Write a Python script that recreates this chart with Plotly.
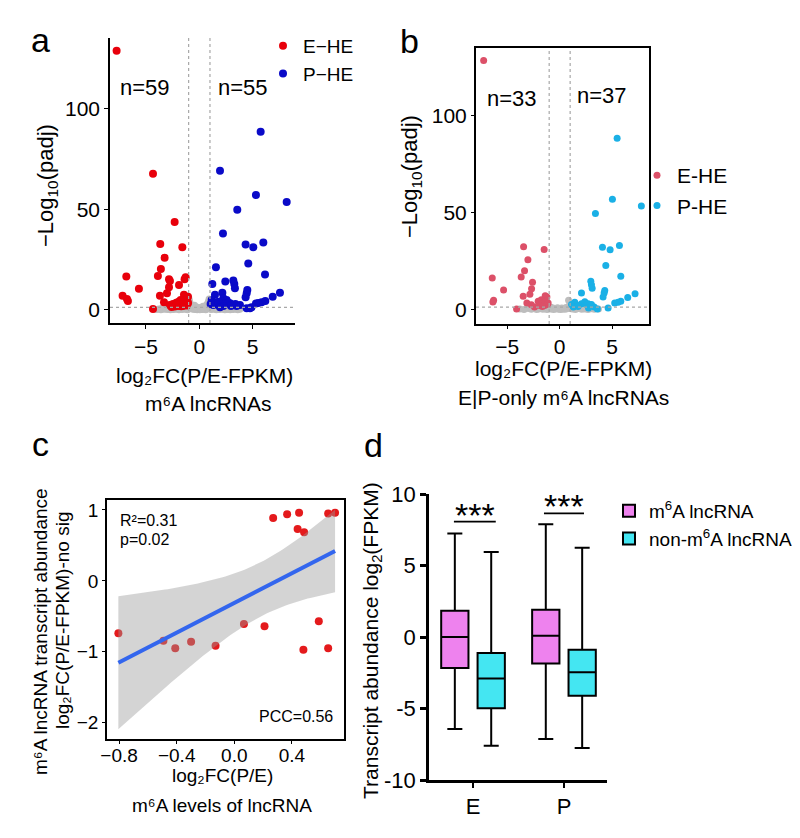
import numpy as np
import plotly.graph_objects as go

W, H = 800, 838
PAGE_PAD = 8  # default body margin of the html page
FONT = "Liberation Sans, Arial, sans-serif"

# ---- panel a : volcano, all m6A lncRNAs ----
a_e_x = [-7.75, -4.34, -2.31, -3.66, -1.59, -3.25, -3.6, -6.84, -3.88, -2.84,
         -2.75, -1.28, -1.38, -5.66, -2.84, -1.9, -7.19, -6.78, -6.69, -3.69,
         -3.03, -3.31, -1.44, -1.31, -4.34, -2.47, -2.16, -1.94, -1.75, -1.63,
         -1.38, -1.13, -1.53, -2.0, -1.06, -2.31, -1.84, -1.22, -2.78, -1.05,
         -2.6, -1.7, -1.45, -1.15, -1.9]
a_e_y = [129, 67.7, 43.8, 32.8, 31.2, 26, 20.4, 16.6, 16.9, 15.3,
         14.4, 16.3, 15.3, 10.6, 11.3, 12.4, 7.0, 5.5, 4.5, 7.1,
         8.3, 3.8, 7.5, 6.6, 0.5, 3.0, 3.6, 4.1, 5.0, 3.3,
         4.1, 4.6, 2.0, 2.0, 6.6, 1.7, 2.5, 3.0, 2.5, 3.5,
         1.5, 1.8, 2.8, 2.2, 2.9]
a_p_x = [5.75, 1.94, 5.31, 8.19, 3.56, 2.22, 4.34, 5.06, 6.0, 4.59,
         1.56, 6.16, 2.44, 3.19, 3.28, 1.22, 3.34, 4.5, 4.44, 4.34,
         7.56, 6.88, 6.19, 5.84, 5.53, 5.31, 1.47, 2.16, 2.25, 2.56,
         2.88, 3.38, 1.06, 1.31, 1.78, 2.09, 2.41, 4.44, 4.75, 4.9,
         3.81, 2.97, 1.16, 1.47, 1.78, 2.72, 3.03, 3.5, 2.25, 1.94]
a_p_y = [88.7, 69.3, 57.2, 53.7, 49.8, 38.0, 32.5, 31.2, 33.5, 23.1,
         21.2, 17.6, 14.1, 14.6, 12.9, 12.9, 10.8, 9.9, 8.3, 6.3,
         8.6, 6.5, 4.5, 3.8, 3.5, 3.2, 7.5, 8.6, 5.8, 5.0,
         3.3, 3.0, 3.0, 2.5, 2.5, 4.1, 3.3, 0.8, 0.8, 1.3,
         2.5, 2.0, 5.0, 3.6, 4.1, 3.6, 2.5, 2.0, 2.0, 1.3]
a_ns_x = [-4.0, -3.8, -3.6, -3.5, -3.3, -3.2, -3.0, -2.9, -2.8, -2.7, -2.6, -2.5,
          -2.4, -2.3, -2.2, -2.1, -2.0, -1.9, -1.8, -1.7, -1.6, -1.5, -1.4, -1.3,
          -1.2, -1.1, -1.05, -0.98, -0.95, -0.92, -0.9, -0.88, -0.85, -0.8, -0.8,
          -0.75, -0.7, -0.65, -0.6, -0.55, -0.5, -0.45, -0.4, -0.35, -0.3, -0.25,
          -0.2, -0.15, -0.1, -0.05, 0.0, 0.05, 0.1, 0.15, 0.2, 0.25, 0.3, 0.35,
          0.4, 0.45, 0.5, 0.55, 0.6, 0.65, 0.7, 0.75, 0.8, 0.85, 0.88, 0.92, 0.95,
          0.98, 1.05, 1.1, 1.2, 1.3, 1.4, 1.5, 1.6, 1.7, 1.8, 1.9, 2.0, 2.1, 2.2,
          2.3, 2.4, 2.5, 2.6, 2.7, 2.8, 2.9, 3.0, 3.2, 3.4, 3.6, 3.8]
a_ns_y = [0.2, 0.5, 0.1, 0.8, 0.3, 1.0, 0.2, 0.6, 1.1, 0.1, 0.4, 0.9,
          0.2, 0.6, 1.2, 0.3, 0.8, 0.1, 0.5, 1.0, 0.2, 0.7, 1.2, 0.4,
          0.9, 0.1, 1.1, 6.0, 5.0, 4.2, 3.5, 2.8, 2.2, 3.0, 1.5,
          0.8, 2.0, 1.2, 0.3, 1.6, 0.7, 2.3, 0.2, 1.0, 0.5, 1.4,
          0.1, 0.8, 0.3, 1.1, 0.5, 0.1, 0.9, 0.4, 1.3, 0.2, 0.7, 1.8,
          0.3, 1.0, 0.5, 2.0, 0.1, 1.4, 2.6, 0.6, 3.4, 1.9, 4.4, 5.5, 2.9,
          3.8, 0.9, 0.2, 0.6, 1.1, 0.3, 0.8, 0.1, 0.5, 1.0, 0.2, 0.7, 1.2, 0.3,
          0.6, 0.1, 0.9, 0.4, 0.2, 0.7, 0.1, 0.5, 0.2, 0.6, 0.1, 0.3]

# ---- panel b : volcano, E|P-only m6A lncRNAs ----
b_e_x = [-7.25, -3.44, -1.48, -3.03, -3.35, -6.43, -3.67, -2.59, -2.68, -5.35,
         -6.30, -6.37, -3.48, -2.84, -3.13, -1.38, -1.22, -4.11, -2.05, -1.75,
         -1.6, -1.3, -1.15, -1.9, -2.4, -1.1, -1.45, -2.7, -1.65]
b_e_y = [128.5, 32.4, 31.0, 25.7, 20.1, 16.3, 16.8, 14.2, 10.8, 10.1,
         4.8, 3.9, 6.9, 7.9, 3.4, 7.2, 6.5, 0.3, 4.3, 5.1,
         3.3, 4.3, 2.6, 2.1, 1.4, 3.4, 2.1, 2.5, 1.6]
b_p_x = [5.48, 5.03, 7.79, 3.41, 4.08, 4.81, 5.70, 4.40, 5.83, 2.97,
         3.03, 3.10, 2.08, 4.30, 4.24, 4.14, 7.19, 6.49, 5.83, 5.57,
         5.25, 4.62, 1.13, 1.44, 1.76, 2.08, 2.4, 2.56, 2.71, 3.03,
         3.29, 3.6, 1.3, 1.75, 2.75]
b_p_y = [88.5, 57.0, 53.5, 49.6, 32.2, 30.9, 33.1, 22.8, 17.3, 14.6,
         12.9, 11.1, 8.6, 9.9, 8.6, 6.5, 8.2, 6.3, 4.3, 3.8,
         3.4, 0.9, 2.6, 3.8, 2.1, 3.1, 4.1, 2.6, 3.1, 2.6,
         1.4, 0.3, 1.4, 1.6, 0.8]
b_ns_x = [-3.8, -3.4, -3.0, -2.7, -2.4, -2.2, -2.0, -1.8, -1.6, -1.4, -1.2, -1.1,
          -0.9, -0.8, -0.6, -0.5, -0.4, -0.2, -0.1, 0.0, 0.1, 0.2, 0.3, 0.5, 0.6,
          0.7, 0.85, 0.9, 0.95, 1.2, 1.5, 1.8, 2.1, 2.4, 2.7, 3.0, 3.3, 3.7]
b_ns_y = [0.3, 0.1, 0.6, 0.2, 0.9, 0.1, 0.4, 0.8, 0.2, 0.5, 0.1, 0.9,
          0.3, 1.2, 0.1, 0.7, 0.3, 1.0, 0.2, 0.6, 0.1, 0.9, 0.4, 0.2, 1.1,
          0.5, 4.8, 2.0, 0.8, 0.3, 0.1, 0.6, 0.2, 0.4, 0.1, 0.5, 0.2, 0.3]

# ---- panel c : m6A level vs transcript abundance ----
c_x = [-0.805, -0.492, -0.41, -0.30, -0.13, 0.067, 0.21, 0.27, 0.367, 0.45,
       0.44, 0.485, 0.48, 0.587, 0.652, 0.652, 0.70]
c_y = [-0.74, -0.845, -0.95, -0.86, -0.915, -0.61, -0.64, 0.887, 0.94, 0.96,
       0.73, 0.686, -0.97, -0.57, 0.95, -0.95, 0.96]

# ---- panel d : box plots ----
groups = ["E", "P"]
m6a_low = [-6.43, -7.13]
m6a_q1 = [-2.17, -1.86]
m6a_med = [0.0, 0.09]
m6a_q3 = [1.84, 1.91]
m6a_high = [7.23, 7.88]
non_low = [-7.6, -7.76]
non_q1 = [-4.99, -4.1]
non_med = [-2.91, -2.47]
non_q3 = [-1.12, -0.89]
non_high = [5.94, 6.25]


# positions below are given in screen pixels of the page
def fx(p):
    return (p - PAGE_PAD) / W


def fy(p):
    return 1 - (p - PAGE_PAD) / H


# linear fit with 95% confidence band (as geom_smooth(method="lm"))
cx = np.array(c_x)
cy = np.array(c_y)
slope, intercept = np.polyfit(cx, cy, 1)
n = len(cx)
xs = np.linspace(cx.min(), cx.max(), 80)
fit = intercept + slope * xs
resid = cy - (intercept + slope * cx)
s = np.sqrt((resid ** 2).sum() / (n - 2))
sxx = ((cx - cx.mean()) ** 2).sum()
t_crit = 2.131  # t(0.975, df=15)
se = s * np.sqrt(1 / n + (xs - cx.mean()) ** 2 / sxx)
upper = fit + t_crit * se
lower = fit - t_crit * se

fig = go.Figure()

# panel a
fig.add_trace(go.Scatter(x=a_ns_x, y=a_ns_y, mode="markers", marker=dict(color="#bdbdbd", size=7),
                         showlegend=False, xaxis="x", yaxis="y", hoverinfo="skip"))
fig.add_trace(go.Scatter(x=a_e_x, y=a_e_y, mode="markers", name="E\u2212HE",
                         marker=dict(color="#e8000b", size=8), xaxis="x", yaxis="y", legend="legend"))
fig.add_trace(go.Scatter(x=a_p_x, y=a_p_y, mode="markers", name="P\u2212HE",
                         marker=dict(color="#0a0ac8", size=8), xaxis="x", yaxis="y", legend="legend"))

# panel b
fig.add_trace(go.Scatter(x=b_ns_x, y=b_ns_y, mode="markers", marker=dict(color="#bdbdbd", size=7),
                         showlegend=False, xaxis="x2", yaxis="y2", hoverinfo="skip"))
fig.add_trace(go.Scatter(x=b_e_x, y=b_e_y, mode="markers", name="E-HE",
                         marker=dict(color="#dc5068", size=7), xaxis="x2", yaxis="y2", legend="legend2"))
fig.add_trace(go.Scatter(x=b_p_x, y=b_p_y, mode="markers", name="P-HE",
                         marker=dict(color="#1ab0e6", size=7), xaxis="x2", yaxis="y2", legend="legend2"))

# panel c
fig.add_trace(go.Scatter(x=c_x, y=c_y, mode="markers", marker=dict(color="#e41a1c", size=8),
                         showlegend=False, xaxis="x3", yaxis="y3"))
fig.add_trace(go.Scatter(x=np.concatenate([xs, xs[::-1]]), y=np.concatenate([upper, lower[::-1]]),
                         fill="toself", fillcolor="rgba(153,153,153,0.42)", line=dict(width=0),
                         mode="lines", showlegend=False, xaxis="x3", yaxis="y3", hoverinfo="skip"))
fig.add_trace(go.Scatter(x=xs, y=fit, mode="lines", line=dict(color="#3366ee", width=4),
                         showlegend=False, xaxis="x3", yaxis="y3"))

# panel d
fig.add_trace(go.Box(x=groups, q1=m6a_q1, median=m6a_med, q3=m6a_q3, lowerfence=m6a_low,
                     upperfence=m6a_high, name="m<sup>6</sup>A lncRNA", fillcolor="#ee82ee",
                     line=dict(color="black", width=2), whiskerwidth=0.55, boxpoints=False,
                     xaxis="x4", yaxis="y4", legend="legend3"))
fig.add_trace(go.Box(x=groups, q1=non_q1, median=non_med, q3=non_q3, lowerfence=non_low,
                     upperfence=non_high, name="non-m<sup>6</sup>A lncRNA", fillcolor="#44e6f2",
                     line=dict(color="black", width=2), whiskerwidth=0.55, boxpoints=False,
                     xaxis="x4", yaxis="y4", legend="legend3"))

base = dict(showgrid=False, zeroline=False, showline=True, linecolor="black", automargin=False,
            ticks="outside", tickcolor="black", color="black")

dot = dict(color="#a8a8a8", width=1.2, dash="dot")
shapes = [
    dict(type="line", xref="x", yref="y domain", x0=-1, x1=-1, y0=0, y1=1, line=dot),
    dict(type="line", xref="x", yref="y domain", x0=1, x1=1, y0=0, y1=1, line=dot),
    dict(type="line", xref="x domain", yref="y", x0=0, x1=1, y0=1.3, y1=1.3, line=dot),
    dict(type="line", xref="x2", yref="y2 domain", x0=-1, x1=-1, y0=0, y1=1, line=dot),
    dict(type="line", xref="x2", yref="y2 domain", x0=1, x1=1, y0=0, y1=1, line=dot),
    dict(type="line", xref="x2 domain", yref="y2", x0=0, x1=1, y0=1.3, y1=1.3, line=dot),
    dict(type="line", xref="x4", yref="y4", x0=-0.21, x1=0.25, y0=8.07, y1=8.07,
         line=dict(color="black", width=1.8)),
    dict(type="line", xref="x4", yref="y4", x0=0.78, x1=1.22, y0=8.65, y1=8.65,
         line=dict(color="black", width=1.8)),
]


def note(text, x, y, size, xanchor="center", **kw):
    return dict(text=text, x=fx(x), y=fy(y), xref="paper", yref="paper", showarrow=False,
                xanchor=xanchor, yanchor="middle", font=dict(size=size, color="black"), **kw)


annotations = [
    note("a", 40, 40, 34), note("b", 409, 41, 34), note("c", 40, 444, 34), note("d", 373, 445, 34),
    note("n=59", 145, 88, 22), note("n=55", 243, 88, 22),
    note("n=33", 512, 98, 22), note("n=37", 602, 96, 22),
    note("\u2212Log<sub>10</sub>(padj)", 47, 186, 22, textangle=-90),
    note("\u2212Log<sub>10</sub>(padj)", 411, 177, 22, textangle=-90),
    note("log\u2082FC(P/E-FPKM)", 204, 375, 21), note("m\u2076A lncRNAs", 208, 403, 21),
    note("log\u2082FC(P/E-FPKM)", 563, 368, 21), note("E|P-only m\u2076A lncRNAs", 563, 397, 21),
    note("m\u2076A lncRNA transcript abundance", 40, 632, 19, textangle=-90),
    note("log\u2082FC(P/E-FPKM)-no sig", 62, 621, 19, textangle=-90),
    note("log\u2082FC(P/E)", 222, 775, 19), note("m\u2076A levels of lncRNA", 222, 805, 19),
    note("R\u00b2=0.31", 118, 520, 16, xanchor="left"),
    note("p=0.02", 118, 539, 16, xanchor="left"),
    note("PCC=0.56", 335, 716, 16, xanchor="right"),
    note("Transcript abundance log<sub>2</sub>(FPKM)", 372, 641, 21, textangle=-90),
    dict(text="***", x=0.02, y=8.55, xref="x4", yref="y4", showarrow=False,
         xanchor="center", yanchor="middle", font=dict(size=34, color="black")),
    dict(text="***", x=1.0, y=9.15, xref="x4", yref="y4", showarrow=False,
         xanchor="center", yanchor="middle", font=dict(size=34, color="black")),
]

fig.update_layout(
    width=W, height=H, margin=dict(l=0, r=0, t=0, b=0, autoexpand=False), autosize=False,
    paper_bgcolor="white", plot_bgcolor="white",
    font=dict(family=FONT, color="black"),
    boxmode="group", boxgap=0.2, boxgroupgap=0.25,
    xaxis=dict(domain=[fx(110), fx(295)], range=[-8.37, 8.97], tickvals=[-5, 0, 5], anchor="y",
               linewidth=1.5, ticklen=4, tickfont=dict(size=21), **base),
    yaxis=dict(domain=[fy(323), fy(38)], range=[-6.5, 135.3], tickvals=[0, 50, 100], anchor="x",
               linewidth=1.5, ticklen=4, tickfont=dict(size=21), **base),
    xaxis2=dict(domain=[fx(476), fx(649)], range=[-7.98, 8.52], tickvals=[-5, 0, 5], anchor="y2",
                linewidth=2, mirror=True, ticklen=3, tickfont=dict(size=21), **base),
    yaxis2=dict(domain=[fy(324), fy(48)], range=[-7.4, 135], tickvals=[0, 50, 100], anchor="x2",
                linewidth=2, mirror=True, ticklen=3, tickfont=dict(size=21), **base),
    xaxis3=dict(domain=[fx(107), fx(344)], range=[-0.884, 0.762], tickvals=[-0.8, -0.4, 0, 0.4],
                ticktext=["\u22120.8", "\u22120.4", "0.0", "0.4"], anchor="y3", ticklabelstandoff=-5,
                linewidth=1.5, mirror=True, ticklen=3, tickfont=dict(size=19), **base),
    yaxis3=dict(domain=[fy(739), fy(500)], range=[-2.23, 1.14], tickvals=[-2, -1, 0, 1], anchor="x3",
                linewidth=1.5, mirror=True, ticklen=3, tickfont=dict(size=19), **base),
    xaxis4=dict(domain=[fx(429), fx(607)], type="category", categoryorder="array", categoryarray=groups,
                range=[-0.484, 1.473], anchor="y4", linewidth=2.5, ticklen=5, tickwidth=2,
                tickfont=dict(size=22), **base),
    yaxis4=dict(domain=[fy(780), fy(494)], range=[-10, 10], tickvals=[-10, -5, 0, 5, 10],
                ticktext=["-10", "-5", "0", "5", "10"], anchor="x4", linewidth=2.5, ticklen=6,
                tickwidth=2.5, tickfont=dict(size=22), **base),
    legend=dict(x=fx(263), y=fy(27), xanchor="left", yanchor="top", font=dict(size=19),
                bgcolor="rgba(0,0,0,0)"),
    legend2=dict(x=fx(637), y=fy(155), xanchor="left", yanchor="top", font=dict(size=21),
                 bgcolor="rgba(0,0,0,0)"),
    legend3=dict(x=fx(609), y=fy(492), xanchor="left", yanchor="top", font=dict(size=19),
                 bgcolor="rgba(0,0,0,0)"),
    shapes=shapes,
    annotations=annotations,
)

fig.write_html("out.html")
